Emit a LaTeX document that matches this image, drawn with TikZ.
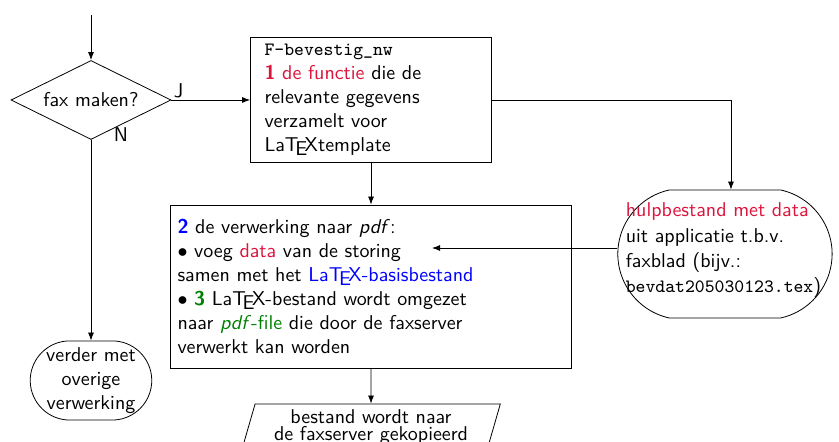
\documentclass[tikz,border=0pt]{standalone}
\usepackage{tikz}
\usepackage{xcolor}
\usetikzlibrary{arrows.meta, positioning, shapes.geometric, shapes.misc}
\renewcommand{\familydefault}{\sfdefault}
\definecolor{hotred}{RGB}{220,20,60}
\definecolor{darkgreen}{RGB}{0,128,0}
\newcommand{\LaTeXsf}{La\TeX}
\newcommand{\bestandsnaam}[1]{{\ttfamily\fontsize{9.4}{12}\selectfont #1}}

\begin{document}
\begin{tikzpicture}[
    pijl/.style={-{Latex[length=4pt, width=3pt]}},
    vak/.style={draw, rectangle, align=left, font=\fontsize{10}{12}\selectfont},
    eind/.style={draw, rounded rectangle, rounded rectangle arc length=#1}
  ]
    \useasboundingbox (0,0) rectangle (14.744, 7.767);

    % keuze fax
    \coordinate (begin) at (1.599, 7.504);
    \node[draw, diamond, aspect=2, inner sep=1pt, minimum width=2.812cm,
        minimum height=1.388cm] (fax) at (1.599, 6.010) {fax maken?};
    \node[anchor=south west, inner sep=1pt] (ja) at (fax.east) {J};
    \node[inner sep=0pt] (nee) at (2.126, 5.395) {N};

    % functie
    \node[vak, text width=3.743cm, inner xsep=7pt, minimum height=2.109cm]
        (functie) at (6.520, 6.010)
        {\bestandsnaam{F-bevestig\_nw}\\
         {\color{hotred}\textbf{1} de functie} die de\\
         relevante gegevens\\
         verzamelt voor\\
         \LaTeXsf{}template};

    % hulpbestand
    \node[eind=155, minimum width=4.0cm, minimum height=2.249cm]
        (hulp) at (12.740, 3.304) {};
    \node[align=left, font=\fontsize{10}{12.6}\selectfont] (hulptekst)
        at (12.714, 3.370)
        {{\color{hotred}hulpbestand met data}\\
         uit applicatie t.b.v.\\
         faxblad (bijv.:\\
         \bestandsnaam{bevdat205030123.tex})};

    % verwerking naar pdf
    \node[vak, text width=6.801cm, inner xsep=3.5pt, minimum height=2.864cm]
        (verwerking) at (6.520, 2.733)
        {{\color{blue}\textbf{2}} de verwerking naar \emph{pdf}:\\
         $\bullet$ voeg {\color{hotred}data} van de storing\\
         samen met het {\color{blue}\LaTeXsf-basisbestand}\\
         $\bullet$ {\color{darkgreen}\textbf{3}} \LaTeXsf-bestand wordt omgezet\\
         naar {\color{darkgreen}\emph{pdf}-file} die door de faxserver\\
         verwerkt kan worden};
    \coordinate (dataend) at (7.592, 3.409);

    % verder
    \node[eind=172, minimum width=2.37cm, minimum height=1.388cm]
        (verder) at (1.599, 1.081) {};
    \node[align=center] (verdertekst) at (verder.center)
        {verder met\\ overige\\ verwerking};

    % kopie naar faxserver
    \node[draw, trapezium, trapezium left angle=73, trapezium right angle=107,
        trapezium stretches=true, minimum width=4.551cm, minimum height=0.815cm,
        inner ysep=1pt, align=center, font=\fontsize{10}{8.6}\selectfont]
        (kopie) at (6.520, 0.261)
        {bestand wordt naar\\ de faxserver gekopieerd};

    % verbindingen
    \draw[pijl] (begin) -- (fax.north);
    \draw[pijl] (fax.east) -- (functie.west);
    \draw[pijl] (functie.east) -| ([xshift=3pt]hulp.north);
    \draw[pijl] (functie.south) -- (verwerking.north);
    \draw[pijl] (hulp.west |- dataend) -- (dataend);
    \draw[pijl] (fax.south) -- (verder.north);
    \draw[pijl] (verwerking.south) -- (kopie.north);
\end{tikzpicture}
\end{document}
